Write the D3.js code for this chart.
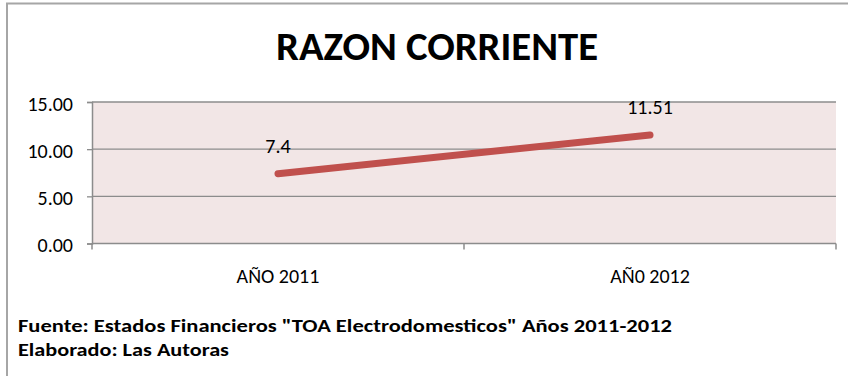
<!DOCTYPE html>
<html>
<head>
<meta charset="utf-8">
<script src="https://cdn.jsdelivr.net/npm/d3@7"></script>
<style>
  html, body { margin: 0; padding: 0; background: #fff; }
  svg { display: block; }
  text { font-family: Carlito, "Liberation Sans Narrow", "Open Sans", sans-serif; }
</style>
</head>
<body>
<svg id="chart" width="848" height="376"></svg>
<script>
// Current ratio by year
const categories = ["AÑO 2011", "AÑ0 2012"];
const values = [7.4, 11.51];
const valueLabels = ["7.4", "11.51"];
const yTicks = [0, 5, 10, 15];
const title = "RAZON CORRIENTE";
const notes = [
  "Fuente: Estados  Financieros  \"TOA Electrodomesticos\"  Años 2011-2012",
  "Elaborado:  Las Autoras"
];

const svg = d3.select("#chart");
const plot = { left: 92, right: 836, top: 102, bottom: 243.5 };
const FONT = "Carlito, 'Liberation Sans Narrow', 'Open Sans', sans-serif";

// Outer frame (top and left edges visible)
svg.append("path")
  .attr("d", "M7,376 V3.5 H848")
  .attr("fill", "none")
  .attr("stroke", "#a6a6a6")
  .attr("stroke-width", 2);

// Title
svg.append("text")
  .attr("x", 276).attr("y", 60)
  .attr("font-size", 40).attr("font-weight", "bold")
  .attr("textLength", 322).attr("lengthAdjust", "spacingAndGlyphs")
  .attr("fill", "#000")
  .text(title);

const x = d3.scaleBand().domain(categories).range([plot.left, plot.right]).padding(0);
const y = d3.scaleLinear().domain([0, 15]).range([plot.bottom, plot.top]);

// Plot background
svg.append("rect")
  .attr("x", plot.left).attr("y", plot.top)
  .attr("width", plot.right - plot.left).attr("height", plot.bottom - plot.top)
  .attr("fill", "#f2e6e6");

// Horizontal gridlines
svg.append("g").selectAll("line").data(yTicks.filter(d => d > 0)).join("line")
  .attr("x1", plot.left).attr("x2", plot.right)
  .attr("y1", d => y(d)).attr("y2", d => y(d))
  .attr("stroke", "#8c8c8c").attr("stroke-width", 1.3);

// Y axis
const yAxis = svg.append("g")
  .attr("transform", `translate(${plot.left},0)`)
  .call(d3.axisLeft(y).tickValues(yTicks).tickFormat(d3.format(".2f")).tickSize(5).tickPadding(5));
yAxis.select(".domain").attr("stroke", "#8c8c8c").attr("stroke-width", 1.5);
yAxis.selectAll(".tick line").attr("stroke", "#8c8c8c").attr("stroke-width", 1.3);
yAxis.selectAll(".tick text")
  .attr("font-size", 20).attr("fill", "#000")
  .style("font-family", FONT)
  .attr("x", -19).attr("dy", "0.42em");

// X axis with ticks at band boundaries
const xAxisG = svg.append("g").attr("transform", `translate(0,${plot.bottom})`);
xAxisG.append("line")
  .attr("x1", plot.left).attr("x2", plot.right)
  .attr("stroke", "#8c8c8c").attr("stroke-width", 1.5);
const boundaries = categories.map(c => x(c)).concat([x(categories[categories.length - 1]) + x.bandwidth()]);
xAxisG.selectAll("line.tk").data(boundaries).join("line")
  .attr("class", "tk")
  .attr("x1", d => d).attr("x2", d => d)
  .attr("y1", 0).attr("y2", 6)
  .attr("stroke", "#8c8c8c").attr("stroke-width", 1.5);
xAxisG.selectAll("text").data(categories).join("text")
  .attr("x", d => x(d) + x.bandwidth() / 2)
  .attr("y", 39)
  .attr("text-anchor", "middle")
  .attr("font-size", 20).attr("fill", "#000")
  .text(d => d);

// Series line
const pts = categories.map((c, i) => [x(c) + x.bandwidth() / 2, y(values[i])]);
svg.append("path")
  .attr("d", d3.line()(pts))
  .attr("fill", "none")
  .attr("stroke", "#c0504d")
  .attr("stroke-width", 7)
  .attr("stroke-linecap", "round");

// Data labels
svg.append("g").selectAll("text").data(pts).join("text")
  .attr("x", d => d[0])
  .attr("y", d => d[1] - 21)
  .attr("text-anchor", "middle")
  .attr("font-size", 20).attr("fill", "#000")
  .text((d, i) => valueLabels[i]);

// Source notes
svg.append("g").selectAll("text").data(notes).join("text")
  .attr("x", 18)
  .attr("y", (d, i) => 332 + i * 24)
  .attr("font-size", 17).attr("font-weight", "bold").attr("fill", "#000")
  .attr("textLength", (d, i) => i === 0 ? 654 : 211)
  .attr("lengthAdjust", "spacingAndGlyphs")
  .text(d => d);
</script>
</body>
</html>
